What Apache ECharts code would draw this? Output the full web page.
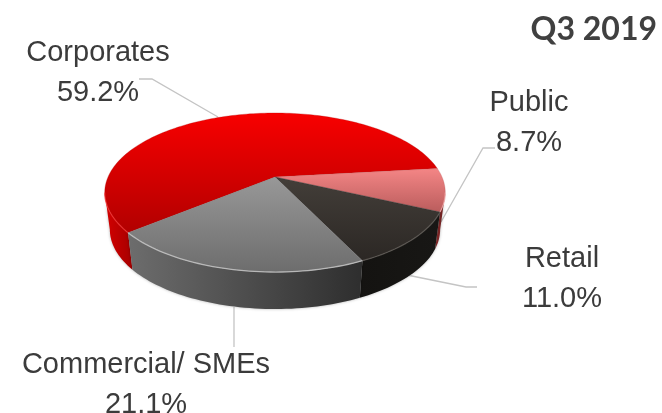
<!DOCTYPE html>
<html><head><meta charset="utf-8">
<style>html,body{margin:0;padding:0;background:#fff}#c{width:662px;height:413px}</style>
<script src="https://cdn.jsdelivr.net/npm/echarts@6/dist/echarts.min.js"></script>
</head><body><div id="c"></div>
<script>
const categories = ["Corporates", "Public", "Retail", "Commercial/ SMEs"];
const shares = [59.2, 8.7, 11.0, 21.1];
const title = "Q3 2019";

// layout + styles, separate from data
const view = {cx: 275, y0: 177, A: 167, B: 76.5, k: 0.195, depth: 37, baseShrink: 0.97, start: -219.6};
const labelPos = [[98, 73], [529, 123], [562, 279], [146, 385]];
const leaders = [
  [[139,79],[152,79],[218,117]],
  [[495,148],[483,148],[441,222]],
  [[407,275],[466,287],[477,287]],
  [[234,307],[234,347]]
];
const topFill = [
  [113,235,'#f80000','#b00000'],
  [168,213,'#f58686','#b95c5c'],
  [177,262,'#433e39','#2b2724'],
  [177,272,'#989898','#6d6d6d']
];
const wallFill = [
  [105,0,131,0,'#d40000','#a80000'],
  [436,0,444,0,'#8a2a2a','#6a2020'],
  [360,0,440,0,'#141311','#181715'],
  [131,0,362,0,'#6c6c6c','#2e2e2e']
];
const rimColor = ['rgba(255,60,60,0.6)','rgba(255,190,190,0.6)','rgba(100,95,90,0.7)','rgba(200,200,200,0.8)'];

const rad = Math.PI/180;
function project(deg, base){
  const s = Math.sin(deg*rad), c = Math.cos(deg*rad), w = 1 - view.k*s;
  const sx = base ? view.baseShrink : 1;
  return [view.cx + sx*view.A*c/w, view.y0 + view.B*s/w + (base ? view.depth : 0)];
}
function arc(a0, a1, base){
  const n = Math.max(2, Math.ceil(Math.abs(a1-a0)/1.5)), pts = [];
  for(let i=0;i<=n;i++) pts.push(project(a0+(a1-a0)*i/n, base));
  return pts;
}
const LG = echarts.graphic.LinearGradient;
function render(params, api){
  const i = params.dataIndex;
  let before = 0;
  for(let j=0;j<i;j++) before += shares[j];
  const total = shares.reduce((a,b)=>a+b,0);
  const a0 = view.start + before/total*360;
  const a1 = a0 + api.value(0)/total*360;
  const kids = [];
  // top face
  const t = topFill[i];
  kids.push({type:'polygon', z2:2, shape:{points:[[view.cx,view.y0]].concat(arc(a0,a1,false))},
    style:{fill:new LG(0,t[0],0,t[1],[{offset:0,color:t[2]},{offset:1,color:t[3]}],true), stroke:t[3], lineWidth:0.3}});
  // visible front wall
  const v0 = Math.asin(view.k)/rad, v1 = 180-v0;
  for(let n=-1;n<=1;n++){
    const lo = Math.max(a0, v0+360*n), hi = Math.min(a1, v1+360*n);
    if(hi>lo){
      const w = wallFill[i];
      kids.push({type:'polygon', z2:1, shape:{points:arc(lo,hi,false).concat(arc(hi,lo,true))},
        style:{fill:new LG(w[0],w[1],w[2],w[3],[{offset:0,color:w[4]},{offset:1,color:w[5]}],true),
               shadowBlur:3, shadowColor:'rgba(0,0,0,0.3)'}});
      kids.push({type:'polyline', z2:3, shape:{points:arc(lo,hi,false)},
        style:{fill:null, stroke:rimColor[i], lineWidth:1.3}});
    }
  }
  // leader
  kids.push({type:'polyline', z2:0, shape:{points:leaders[i]}, style:{fill:null, stroke:'#c4c4c4', lineWidth:1.3}});
  // label
  kids.push({type:'text', z2:4, style:{
    text: categories[i] + '\n' + api.value(0).toFixed(1) + '%',
    x: labelPos[i][0], y: labelPos[i][1], align:'center', verticalAlign:'middle',
    fontFamily:'"Liberation Sans", Arial, sans-serif', fontSize:29, lineHeight:40, fill:'#3b3b3b'}});
  return {type:'group', children:kids};
}
const chart = echarts.init(document.getElementById('c'), null, {renderer:'canvas'});
chart.setOption({
  animation:false,
  title:{text:title, right:0, top:9, textStyle:{fontFamily:'Lato, sans-serif', fontWeight:'bold', fontSize:32, color:'#404040'}},
  series:[{type:'custom', coordinateSystem:'none', silent:true, clip:false,
    data:shares.map((v,i)=>({name:categories[i], value:[v]})),
    encode:{value:0}, renderItem:render}]
});
</script></body></html>
